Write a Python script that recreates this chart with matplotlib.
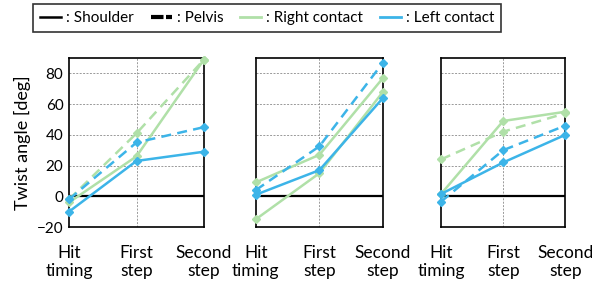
import numpy as np
import matplotlib.pyplot as plt
from matplotlib.lines import Line2D

plt.rcParams['font.family'] = ['Lato', 'DejaVu Sans']

phases = ['Hit\ntiming', 'First\nstep', 'Second\nstep']

# twist angles [deg], one list per panel
shoulder_right = [[-4, 26, 89], [-15, 15, 68], [1.5, 49, 55]]
pelvis_right = [[-2, 41, 89], [9, 27, 77], [24, 42, 54]]
shoulder_left = [[-10, 23, 29], [1, 17, 64], [1.5, 22, 40]]
pelvis_left = [[-2, 35, 45], [4, 32.5, 87], [-3.5, 30, 46]]

green = '#b0e0a8'
blue = '#3cb4e8'

fig = plt.figure(figsize=(5.92, 2.87), dpi=100)
boxes = [[0.1166, 0.209, 0.228, 0.589],
         [0.432, 0.209, 0.215, 0.589],
         [0.745, 0.209, 0.210, 0.589]]

x = np.arange(len(phases))
for i, b in enumerate(boxes):
    ax = fig.add_axes(b)
    # pelvis right is drawn solid in the middle panel of the original
    pr_style = '-' if i == 1 else (0, (4, 2.5))
    ax.plot(x, shoulder_right[i], color=green, lw=1.8, marker='D', ms=4.5, clip_on=False, zorder=3)
    ax.plot(x, pelvis_right[i], color=green, lw=1.8, ls=pr_style, marker='D', ms=4.5, clip_on=False, zorder=3)
    ax.plot(x, shoulder_left[i], color=blue, lw=1.8, marker='D', ms=4.5, clip_on=False, zorder=4)
    ax.plot(x, pelvis_left[i], color=blue, lw=1.8, ls=(0, (4, 2.5)), marker='D', ms=4.5, clip_on=False, zorder=4)
    ax.set_xlim(0, 2)
    ax.set_ylim(-20, 90)
    for yv in [20, 40, 60, 80]:
        ax.axhline(yv, color='#999999', lw=0.7, ls=(0, (2, 1.5)), zorder=1)
    ax.axvline(1, color='#999999', lw=0.7, ls=(0, (2, 1.5)), zorder=1)
    ax.axhline(0, color='black', lw=1.6, zorder=2)
    for s in ax.spines.values():
        s.set_linewidth(1.2)
    ax.set_xticks(x)
    ax.set_xticklabels(phases, fontsize=12.5, linespacing=1.15)
    ax.tick_params(axis='x', length=0, pad=13)
    ax.set_yticks([-20, 0, 20, 40, 60, 80])
    if i == 0:
        ax.tick_params(axis='y', length=0, labelsize=11, pad=4)
        ax.set_ylabel('Twist angle [deg]', fontsize=13)
    else:
        ax.tick_params(axis='y', length=0, labelleft=False)

handles = [Line2D([], [], color='black', lw=1.8),
           Line2D([], [], color='black', lw=3, ls=(0, (3, 0.6))),
           Line2D([], [], color=green, lw=2),
           Line2D([], [], color=blue, lw=2)]
labels = [': Shoulder', ': Pelvis', ': Right contact', ': Left contact']
leg = fig.legend(handles, labels, loc='center', bbox_to_anchor=(0.451, 0.937), ncol=4,
                 fontsize=11, frameon=True, fancybox=False, edgecolor='black',
                 handlelength=1.4, handletextpad=0.3, columnspacing=1.1,
                 borderpad=0.45)
leg.get_frame().set_linewidth(1.2)

plt.savefig('out.png', dpi=100)
